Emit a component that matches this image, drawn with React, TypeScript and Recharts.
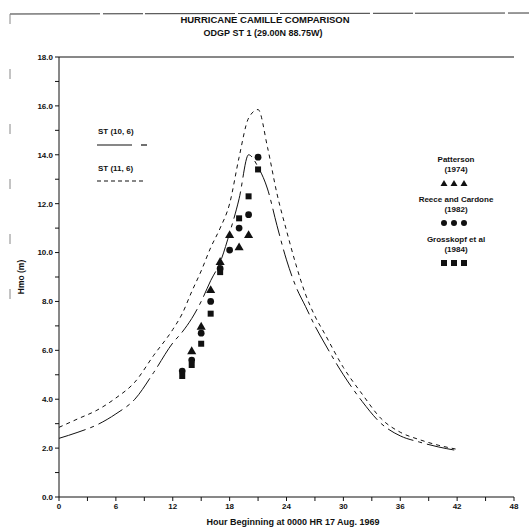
import React from 'react';
import { ComposedChart, Line, Scatter, XAxis, YAxis, ZAxis, ReferenceLine } from 'recharts';

// hindcast curves
const HOURS = [0, 2, 4, 6, 8, 10, 12, 13, 14, 15, 16, 17, 18, 19, 20, 21, 22, 23, 24, 25, 26, 27, 28, 30, 32, 34, 36, 38, 40, 42];
const ST_10_6 = [2.4, 2.65, 2.95, 3.4, 4.0, 5.1, 6.3, 6.75, 7.3, 8.0, 8.85, 9.6, 10.8, 12.2, 14.0, 13.5, 12.6, 11.1, 9.7, 8.6, 7.8, 7.0, 6.3, 5.0, 3.9, 3.0, 2.5, 2.25, 2.05, 1.9];
const ST_11_6 = [2.85, 3.2, 3.55, 4.05, 4.7, 5.8, 6.85, 7.5, 8.4, 9.25, 10.2, 11.0, 12.0, 13.9, 15.5, 15.85, 14.3, 12.4, 10.9, 9.5, 8.3, 7.4, 6.7, 5.3, 4.2, 3.2, 2.65, 2.35, 2.12, 1.95];

// measured / other hindcast points
const PATTERSON_HOURS = [14, 15, 16, 17, 18, 19, 20];
const PATTERSON_HMO = [5.95, 6.95, 8.45, 9.6, 10.7, 10.2, 10.7];
const REECE_HOURS = [13, 14, 15, 16, 17, 18, 19, 20, 21];
const REECE_HMO = [5.15, 5.6, 6.7, 8.0, 9.35, 10.1, 11.0, 11.55, 13.9];
const GROSS_HOURS = [13, 14, 15, 16, 17, 19, 20, 21];
const GROSS_HMO = [4.95, 5.4, 6.27, 7.5, 9.2, 11.4, 12.3, 13.4];

const X_TICKS = [0, 3, 6, 9, 12, 15, 18, 21, 24, 27, 30, 33, 36, 39, 42, 45, 48];
const Y_TICKS = [0, 1, 2, 3, 4, 5, 6, 7, 8, 9, 10, 11, 12, 13, 14, 15, 16, 17, 18];

const INK = '#111';
const FONT = '"Liberation Sans", Arial, sans-serif';

const toPoints = (xs: number[], ys: number[]) => xs.map((x, i) => ({ hour: x, hmo: ys[i] }));

const lineA = toPoints(HOURS, ST_10_6);
const lineB = toPoints(HOURS, ST_11_6);
const patterson = toPoints(PATTERSON_HOURS, PATTERSON_HMO);
const reece = toPoints(REECE_HOURS, REECE_HMO);
const gross = toPoints(GROSS_HOURS, GROSS_HMO);

const txt = { fontFamily: FONT, fontWeight: 700, fill: INK } as const;
const tickStyle = { fontSize: 8, fontWeight: 700, fill: INK, fontFamily: FONT };

const Overlay = () => (
  <svg width={529} height={532} style={{ position: 'absolute', left: 0, top: 0, pointerEvents: 'none' }}>
    {/* page frame */}
    <line x1={10} y1={14} x2={529} y2={13} stroke="#333" strokeWidth={1} strokeDasharray="90 3 40 2" />
    <line x1={10} y1={14} x2={10} y2={340} stroke="#888" strokeWidth={1} strokeDasharray="10 45" />

    <text x={265} y={23} textAnchor="middle" fontSize={9.5} {...txt}>HURRICANE CAMILLE COMPARISON</text>
    <text x={263} y={36} textAnchor="middle" fontSize={9} {...txt}>ODGP ST 1  (29.00N  88.75W)</text>

    <text x={24} y={277} textAnchor="middle" fontSize={8.5} {...txt} transform="rotate(-90 24 277)">Hmo (m)</text>
    <text x={293} y={525} textAnchor="middle" fontSize={9} {...txt}>Hour Beginning at 0000 HR  17 Aug. 1969</text>

    {/* line legend */}
    <text x={98} y={134} fontSize={8} {...txt}>ST (10, 6)</text>
    <line x1={97} y1={145} x2={132} y2={145} stroke={INK} strokeWidth={1.2} />
    <line x1={141} y1={145} x2={147} y2={145} stroke={INK} strokeWidth={1.2} />
    <text x={98} y={171} fontSize={8} {...txt}>ST (11, 6)</text>
    <line x1={97} y1={181} x2={146} y2={181} stroke={INK} strokeWidth={1.2} strokeDasharray="4 3" />

    {/* symbol legend */}
    <text x={456} y={162} textAnchor="middle" fontSize={8} {...txt}>Patterson</text>
    <text x={456} y={172} textAnchor="middle" fontSize={8} {...txt}>(1974)</text>
    {[444, 454, 464].map((x) => (
      <polygon key={x} points={`${x},${180} ${x - 3.5},${186} ${x + 3.5},${186}`} fill={INK} />
    ))}
    <text x={456} y={202} textAnchor="middle" fontSize={8} {...txt}>Reece and Cardone</text>
    <text x={456} y={212} textAnchor="middle" fontSize={8} {...txt}>(1982)</text>
    {[444, 454, 464].map((x) => (
      <circle key={x} cx={x} cy={223} r={3} fill={INK} />
    ))}
    <text x={456} y={242} textAnchor="middle" fontSize={8} {...txt}>Grosskopf et al</text>
    <text x={456} y={252} textAnchor="middle" fontSize={8} {...txt}>(1984)</text>
    {[444, 454, 464].map((x) => (
      <rect key={x} x={x - 3} y={260} width={6} height={6} fill={INK} />
    ))}
  </svg>
);

export default function App() {
  return (
    <div style={{ position: 'absolute', left: 0, top: 0, width: 529, height: 532, background: '#fff' }}>
      <ComposedChart width={529} height={532} margin={{ top: 57, right: 15, bottom: 15, left: 19 }}>
        <XAxis
          type="number"
          dataKey="hour"
          domain={[0, 48]}
          ticks={X_TICKS}
          tickFormatter={(v: number) => (v % 6 === 0 ? String(v) : '')}
          height={20}
          tickSize={4}
          stroke={INK}
          tick={tickStyle}
        />
        {/* inward half of the cross-shaped tick marks */}
        <XAxis
          xAxisId="inner"
          type="number"
          domain={[0, 48]}
          ticks={X_TICKS}
          tickFormatter={() => ''}
          mirror
          axisLine={false}
          height={0}
          tickSize={3}
          stroke={INK}
        />
        <YAxis
          type="number"
          dataKey="hmo"
          domain={[0, 18]}
          ticks={Y_TICKS}
          tickFormatter={(v: number) => (v % 2 === 0 ? v.toFixed(1) : '')}
          width={40}
          tickSize={4}
          stroke={INK}
          tick={tickStyle}
        />
        <YAxis
          yAxisId="inner"
          type="number"
          domain={[0, 18]}
          ticks={Y_TICKS}
          tickFormatter={() => ''}
          mirror
          axisLine={false}
          width={0}
          tickSize={3}
          stroke={INK}
        />
        <ZAxis range={[36, 36]} />
        <ReferenceLine y={18} stroke={INK} strokeWidth={1} />
        <Line data={lineA} dataKey="hmo" type="monotone" stroke={INK} strokeWidth={1} strokeDasharray="28 5 4 5" dot={false} isAnimationActive={false} />
        <Line data={lineB} dataKey="hmo" type="monotone" stroke={INK} strokeWidth={1} strokeDasharray="4 4" dot={false} isAnimationActive={false} />
        <Scatter data={patterson} dataKey="hmo" shape="triangle" fill={INK} isAnimationActive={false} />
        <Scatter data={reece} dataKey="hmo" shape="circle" fill={INK} isAnimationActive={false} />
        <Scatter data={gross} dataKey="hmo" shape="square" fill={INK} isAnimationActive={false} />
      </ComposedChart>
      <Overlay />
    </div>
  );
}
